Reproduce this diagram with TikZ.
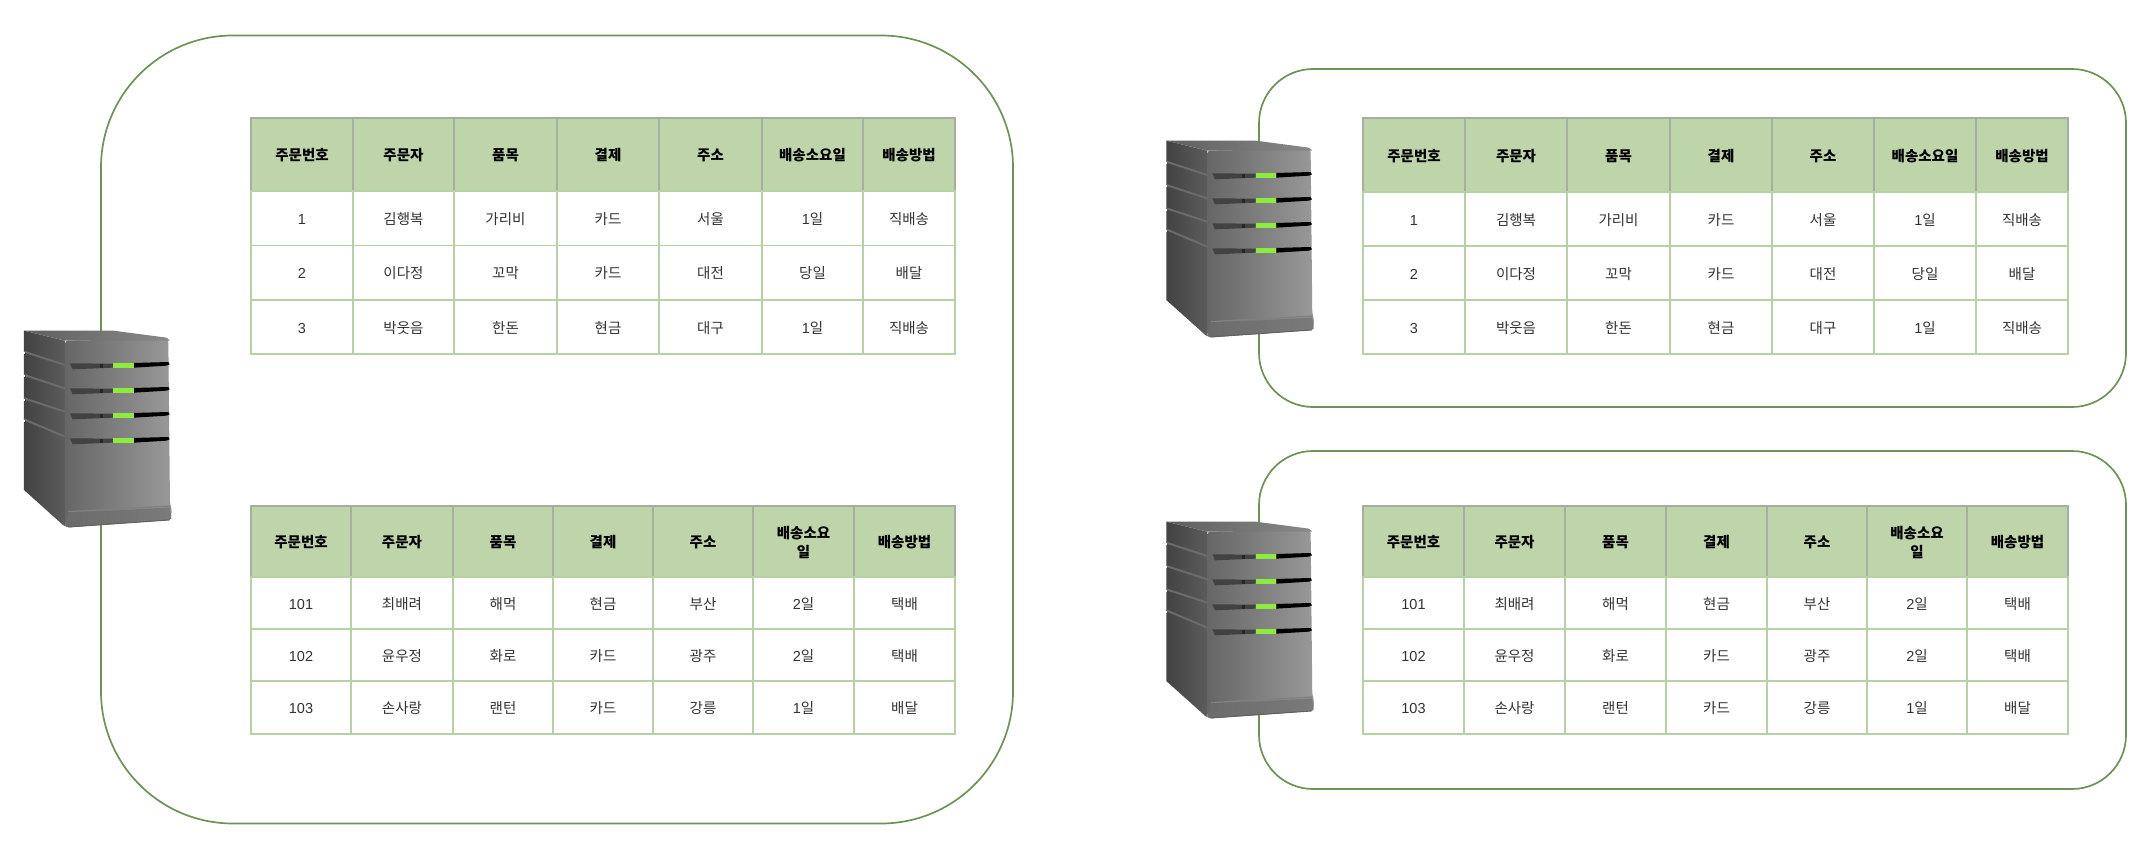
\documentclass[tikz,border=0pt]{standalone}
\usepackage{fontspec}
\newfontfamily\kr{Noto Sans CJK KR}
\newfontfamily\latfont{Liberation Sans}
\newcommand{\dg}[1]{{\latfont #1}}
\newcommand{\tstrut}{\rule[-3pt]{0pt}{18.5pt}}
\definecolor{edgegreen}{HTML}{6F9257}
\definecolor{headfill}{HTML}{BDD5A9}
\definecolor{headline}{HTML}{A8ADA4}
\definecolor{bodyline}{HTML}{B5D3A2}
\definecolor{bodytext}{HTML}{333333}
\definecolor{lightgr}{HTML}{8DEB3D}
\tikzset{
  frame/.style={draw=edgegreen,line width=1.7pt,rectangle,inner sep=0pt,outer sep=0pt},
  hdcell/.style={draw=headline,fill=headfill,line width=1.8pt,text=black,font=\kr\bfseries\fontsize{14.5}{19}\selectfont,rectangle,inner sep=0pt,outer sep=0pt,align=center},
  bdcell/.style={draw=bodyline,line width=1.7pt,text=bodytext,font=\kr\fontsize{14.5}{19}\selectfont,rectangle,inner sep=0pt,outer sep=0pt,align=center},
  slotdark/.style={fill=black!74},
  sidegroove/.style={draw=black!58,line width=2pt}
}
% #1 name prefix, #2 top, #3 bottom, #4 style, #5 texts (columns in \xs)
\newcommand{\trow}[5]{%
  \foreach \txt [count=\ci] in {#5}{%
    \pgfmathsetmacro\xl{\xs[\ci-1]}%
    \pgfmathsetmacro\xr{\xs[\ci]}%
    \pgfmathsetmacro\cw{\xr-\xl}%
    \pgfmathsetmacro\ch{#3-#2}%
    \pgfmathsetmacro\cx{(\xr+\xl)/2}%
    \pgfmathsetmacro\cy{(#3+#2)/2}%
    \node[#4,minimum width=\cw pt,minimum height=\ch pt] (#1-\ci) at (\cx,\cy) {\tstrut\txt\tstrut};
  }%
}
\newcommand{\server}[3]{%
\begin{scope}[shift={(#2,#3)},x=0.3333pt,y=-0.3333pt]
  \path[left color=black!74,right color=black!64] (72,92) -- (195,122) -- (195,678) -- (190,676) -- (72,570) -- cycle;
  \path[left color=black!60,right color=black!40,rounded corners=3pt] (195,122) -- (505,117) -- (510,612) -- (515,625) -- (514,655) -- (508,660) -- (205,682) -- (195,678) -- cycle;
  \path[left color=black!63,right color=black!46] (72,92) -- (340,92) -- (500,113) -- (510,122) -- (195,122) -- cycle;
  \path[left color=black!58,right color=black!52] (205,640) -- (510,622) -- (514,655) -- (508,660) -- (205,682) -- (195,678) -- cycle;
  \draw[black!50,line width=1.3pt] (205,635) -- (510,618);
  \draw[black!62,line width=1pt] (205,681) -- (508,660);
  \foreach \gy/\ge in {155/195,225/265,295/335,358/410}{
    \draw[sidegroove] (72,\gy) -- (195,\ge);
    \fill[white] (66,\gy+1) rectangle (75,\gy+7);
  }
  \foreach \sy in {197,272,347,422}{
    \path[slotdark] (210,\sy-7) -- (340,\sy-6) -- (340,\sy+6) -- (218,\sy+11) -- cycle;
    \fill[black!85] (299,\sy-5) rectangle (309,\sy+6);
    \fill[black] (402,\sy-8) -- (505,\sy-11) -- (509,\sy-4) -- (500,\sy) -- (402,\sy+6) -- cycle;
    \fill[lightgr] (340,\sy-7) rectangle (402,\sy+7);
  }
  \coordinate (#1) at (290,385);
\end{scope}}
\begin{document}
\begin{tikzpicture}[x=1pt,y=-1pt]
\useasboundingbox (0,0) rectangle (2152,842);
\fill[white] (0,0) rectangle (2152,842);
% containers
\node[frame,rounded corners=132pt,minimum width=912pt,minimum height=788pt] (big) at (557,429.5) {};
\node[frame,rounded corners=54pt,minimum width=867pt,minimum height=338pt] (upper) at (1692.5,238) {};
\node[frame,rounded corners=54pt,minimum width=867pt,minimum height=338pt] (lower) at (1692.5,620) {};
% servers
\server{srvA}{0}{300}
\server{srvB}{1142.3}{110}
\server{srvC}{1142.3}{491}
% table A1
\def\xs{{251,353,454,557,659,762,863,955}}
\trow{aH}{118}{191}{hdcell}{주문번호,주문자,품목,결제,주소,배송소요일,배송방법}
\trow{aA}{191}{245.5}{bdcell}{\dg{1},김행복,가리비,카드,서울,\dg{1}일,직배송}
\trow{aB}{245.5}{300}{bdcell}{\dg{2},이다정,꼬막,카드,대전,당일,배달}
\trow{aC}{300}{354}{bdcell}{\dg{3},박웃음,한돈,현금,대구,\dg{1}일,직배송}
% table A2
\def\xs{{251,351,453,553,653,753,854,955}}
\trow{bH}{506}{577}{hdcell}{주문번호,주문자,품목,결제,주소,{배송소요\\일},배송방법}
\trow{bA}{577}{629}{bdcell}{\dg{101},최배려,해먹,현금,부산,\dg{2}일,택배}
\trow{bB}{629}{681}{bdcell}{\dg{102},윤우정,화로,카드,광주,\dg{2}일,택배}
\trow{bC}{681}{734}{bdcell}{\dg{103},손사랑,랜턴,카드,강릉,\dg{1}일,배달}
% table B
\def\xs{{1363,1465,1567,1670,1772,1874,1976,2068}}
\trow{cH}{118}{192}{hdcell}{주문번호,주문자,품목,결제,주소,배송소요일,배송방법}
\trow{cA}{192}{246}{bdcell}{\dg{1},김행복,가리비,카드,서울,\dg{1}일,직배송}
\trow{cB}{246}{300}{bdcell}{\dg{2},이다정,꼬막,카드,대전,당일,배달}
\trow{cC}{300}{354}{bdcell}{\dg{3},박웃음,한돈,현금,대구,\dg{1}일,직배송}
% table C
\def\xs{{1363,1464,1565,1666,1767,1867,1967,2068}}
\trow{dH}{506}{577}{hdcell}{주문번호,주문자,품목,결제,주소,{배송소요\\일},배송방법}
\trow{dA}{577}{629}{bdcell}{\dg{101},최배려,해먹,현금,부산,\dg{2}일,택배}
\trow{dB}{629}{681}{bdcell}{\dg{102},윤우정,화로,카드,광주,\dg{2}일,택배}
\trow{dC}{681}{734}{bdcell}{\dg{103},손사랑,랜턴,카드,강릉,\dg{1}일,배달}
\end{tikzpicture}
\end{document}
